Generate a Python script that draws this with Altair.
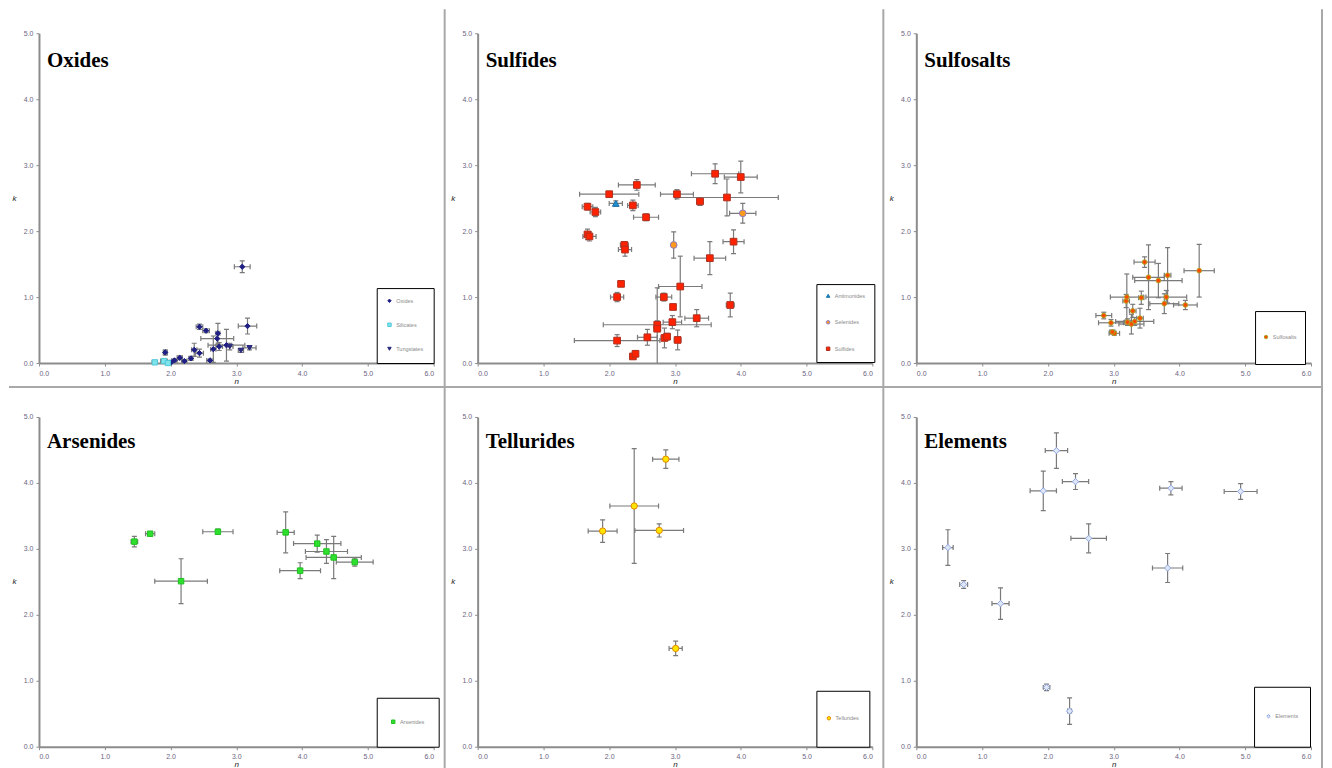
import altair as alt
import pandas as pd

# ---------------- data ----------------
# Oxides panel
OX_SERIES = ["Oxides"] * 18 + ["Tungstates"] * 3 + ["Silicates"] * 3
OX_N = [3.09, 3.17, 2.44, 2.54, 2.72, 2.71, 2.85, 2.74, 2.65, 2.36, 2.44, 1.92, 2.14, 2.06, 2.01, 2.21, 2.31, 2.60,
        3.07, 3.20, 2.90, 1.76, 1.90, 1.96]
OX_K = [1.46, 0.56, 0.55, 0.49, 0.45, 0.37, 0.27, 0.25, 0.21, 0.20, 0.15, 0.16, 0.08, 0.04, 0.01, 0.03, 0.07, 0.04,
        0.19, 0.23, 0.25, 0.01, 0.03, 0.00]
OX_DN = [0.12, 0.14, 0.05, 0.05, 0.03, 0.25, 0.28, 0.05, 0.04, 0.04, 0.06, 0.03, 0.04, 0.04, 0.03, 0.04, 0.03, 0.05,
         0.04, 0.10, 0.05, 0.04, 0.05, 0.03]
OX_DK = [0.09, 0.12, 0.04, 0.03, 0.15, 0.10, 0.24, 0.06, 0.20, 0.10, 0.06, 0.04, 0.03, 0.02, 0.01, 0.02, 0.03, 0.02,
         0.03, 0.03, 0.05, 0.01, 0.02, 0.01]

# Sulfides panel
SU_SERIES = ["Sulfides"] * 7 + ["Antimonides"] + ["Sulfides"] * 4 + ["Selenides"] + ["Sulfides"] * 4 + ["Selenides"] + ["Sulfides"] * 19
SU_N = [3.61, 4.00, 2.42, 2.00, 3.03, 3.38, 3.79, 2.10, 2.36, 1.67, 1.79, 2.56, 4.03, 1.67, 1.70, 2.23, 2.24, 2.98,
        3.89, 3.53, 3.08, 2.18, 2.12, 2.83, 3.84, 2.97, 3.33, 2.73, 2.73, 2.96, 2.12, 2.58, 2.84, 2.88, 3.04, 2.36, 2.40]
SU_K = [2.87, 2.82, 2.70, 2.56, 2.56, 2.45, 2.51, 2.42, 2.39, 2.37, 2.29, 2.21, 2.27, 1.95, 1.92, 1.79, 1.72, 1.79,
        1.84, 1.59, 1.16, 1.20, 1.00, 1.00, 0.88, 0.85, 0.68, 0.58, 0.52, 0.62, 0.34, 0.39, 0.38, 0.40, 0.35, 0.10, 0.14]
SU_DN = [0.36, 0.25, 0.28, 0.45, 0.25, 0.05, 0.78, 0.10, 0.08, 0.08, 0.08, 0.19, 0.20, 0.04, 0.10, 0.06, 0.10, 0.03,
         0.16, 0.24, 0.33, 0.03, 0.10, 0.12, 0.06, 0.03, 0.18, 0.82, 0.05, 0.14, 0.65, 0.15, 0.05, 0.04, 0.05, 0.03, 0.03]
SU_DK = [0.15, 0.24, 0.08, 0.04, 0.07, 0.06, 0.28, 0.04, 0.08, 0.05, 0.07, 0.05, 0.15, 0.08, 0.07, 0.05, 0.10, 0.20,
         0.18, 0.25, 0.46, 0.04, 0.07, 0.06, 0.18, 0.04, 0.13, 0.06, 0.62, 0.10, 0.09, 0.12, 0.15, 0.05, 0.15, 0.04, 0.04]

# Sulfosalts panel
SS_SERIES = ["Sulfosalts"] * 20
SS_N = [3.47, 3.53, 3.68, 3.82, 4.30, 3.20, 3.80, 3.77, 4.09, 3.19, 3.42, 3.29, 2.85, 3.40, 3.32, 3.21, 2.96, 3.27, 3.01, 2.98]
SS_K = [1.53, 1.30, 1.25, 1.33, 1.40, 1.00, 1.00, 0.90, 0.88, 0.94, 0.99, 0.79, 0.72, 0.68, 0.63, 0.62, 0.61, 0.59, 0.45, 0.47]
SS_DN = [0.16, 0.24, 0.36, 0.05, 0.23, 0.25, 0.31, 0.22, 0.18, 0.05, 0.04, 0.05, 0.12, 0.05, 0.29, 0.05, 0.19, 0.19, 0.08, 0.04]
SS_DK = [0.08, 0.49, 0.26, 0.42, 0.40, 0.35, 0.10, 0.15, 0.07, 0.10, 0.10, 0.10, 0.05, 0.15, 0.06, 0.05, 0.05, 0.15, 0.03, 0.03]

# Arsenides panel
AR_SERIES = ["Arsenides"] * 10
AR_N = [1.45, 1.69, 2.72, 2.16, 3.75, 4.23, 4.37, 4.48, 4.80, 3.97]
AR_K = [3.11, 3.23, 3.26, 2.51, 3.25, 3.08, 2.96, 2.87, 2.80, 2.67]
AR_DN = [0.05, 0.07, 0.23, 0.40, 0.13, 0.36, 0.32, 0.42, 0.28, 0.31]
AR_DK = [0.08, 0.03, 0.04, 0.34, 0.31, 0.13, 0.18, 0.32, 0.06, 0.12]

# Tellurides panel
TE_SERIES = ["Tellurides"] * 5
TE_N = [2.86, 2.38, 1.90, 2.76, 3.01]
TE_K = [4.36, 3.65, 3.27, 3.28, 1.49]
TE_DN = [0.20, 0.37, 0.22, 0.37, 0.10]
TE_DK = [0.14, 0.87, 0.17, 0.10, 0.11]

# Elements panel
EL_SERIES = ["Elements"] * 12
EL_N = [2.13, 1.93, 2.42, 3.87, 4.93, 2.62, 0.48, 0.72, 1.28, 3.82, 1.98, 2.33]
EL_K = [4.49, 3.88, 4.02, 3.92, 3.87, 3.16, 3.02, 2.46, 2.17, 2.71, 0.90, 0.54]
EL_DN = [0.17, 0.20, 0.20, 0.17, 0.25, 0.27, 0.08, 0.06, 0.13, 0.23, 0.05, 0.03]
EL_DK = [0.27, 0.30, 0.12, 0.10, 0.12, 0.22, 0.27, 0.06, 0.24, 0.22, 0.05, 0.20]

X_TICKS = [0, 1, 2, 3, 4, 5, 6]
Y_TICKS = [0, 1, 2, 3, 4, 5]

# ---------------- styling ----------------
W, H = 395, 330
ERR = "#7a7a7a"
DIV = "#a8a8a8"


def make_panel(title, row, col, series, n, k, dn, dk, domain, fills, strokes, shapes, size,
               lx, ly, pad, rowpad, lines):
    df = pd.DataFrame({"series": series, "n": n, "k": k, "dn": dn, "dk": dk})
    base = alt.Chart(df).transform_calculate(
        n_lo="datum.n - datum.dn", n_hi="datum.n + datum.dn",
        k_lo="datum.k - datum.dk", k_hi="datum.k + datum.dk")

    xs = alt.Scale(domain=[0, 6], nice=False, zero=False)
    ys = alt.Scale(domain=[0, 5], nice=False, zero=False)
    xax = alt.Axis(values=X_TICKS, format=".1f", title="n", titleY=18, titleBaseline="middle")
    yax = alt.Axis(values=Y_TICKS, format=".1f", title="k", titleAngle=0, titleX=-25, titleY=H / 2,
                   titleAlign="center", titleBaseline="middle")

    def X(f):
        return alt.X(f, type="quantitative", scale=xs, axis=xax)

    def Y(f):
        return alt.Y(f, type="quantitative", scale=ys, axis=yax)

    hbar = base.mark_rule(color=ERR, strokeWidth=1.2, clip=True).encode(x=X("n_lo"), x2="n_hi", y=Y("k"))
    vbar = base.mark_rule(color=ERR, strokeWidth=1.2, clip=True).encode(x=X("n"), y=Y("k_lo"), y2="k_hi")
    cap1 = base.mark_tick(orient="vertical", size=5, thickness=1.2, color=ERR, clip=True, opacity=1).encode(x=X("n_lo"), y=Y("k"))
    cap2 = base.mark_tick(orient="vertical", size=5, thickness=1.2, color=ERR, clip=True, opacity=1).encode(x=X("n_hi"), y=Y("k"))
    cap3 = base.mark_tick(orient="horizontal", size=5, thickness=1.2, color=ERR, clip=True, opacity=1).encode(x=X("n"), y=Y("k_lo"))
    cap4 = base.mark_tick(orient="horizontal", size=5, thickness=1.2, color=ERR, clip=True, opacity=1).encode(x=X("n"), y=Y("k_hi"))

    leg_kwargs = dict(orient="none", legendX=lx, legendY=ly, direction="vertical",
                      strokeColor="#000000", fillColor="#ffffff", padding=pad, rowPadding=rowpad,
                      labelFontSize=5.5, labelColor="#8a8a8a", labelFont="Liberation Sans",
                      symbolSize=12, symbolStrokeWidth=1, labelOffset=4)
    if lines > 1:
        # extra blank label lines below the entry, balanced by a blank title above it
        parts = ["datum.label"] + ["''"] * (lines - 1)
        leg_kwargs["labelExpr"] = "[" + ", ".join(parts) + "]"
        extra = 7.5 * (lines - 1)
        tfs = 5 if lines == 2 else 8
        leg_kwargs.update(title=" ", titleFontSize=tfs, titlePadding=extra - tfs)
    else:
        leg_kwargs["title"] = None
    leg = alt.Legend(**leg_kwargs)

    pts = base.mark_point(filled=True, size=size, strokeWidth=1, opacity=1).encode(
        x=X("n"), y=Y("k"),
        fill=alt.Fill("series:N", scale=alt.Scale(domain=domain, range=fills), legend=leg),
        stroke=alt.Stroke("series:N", scale=alt.Scale(domain=domain, range=strokes), legend=leg),
        shape=alt.Shape("series:N", scale=alt.Scale(domain=domain, range=shapes), legend=leg),
    )

    one = alt.Data(values=[{"d": 0}])
    if row == 0:
        vtop, vbot, hy = -24, 354, 354
    else:
        vtop, vbot, hy = -29, 352, None
    layers = [hbar, vbar, cap1, cap2, cap3, cap4, pts]
    layers.append(alt.Chart(one).mark_rule(color=DIV, strokeWidth=2).encode(
        x=alt.value(406), y=alt.value(vtop), y2=alt.value(vbot)))
    if hy is not None:
        x0 = -30 if col == 0 else -33
        layers.append(alt.Chart(one).mark_rule(color=DIV, strokeWidth=2).encode(
            x=alt.value(x0), x2=alt.value(407), y=alt.value(hy)))

    dy = 80 if row == 0 else 82
    return alt.layer(*layers).properties(
        width=W, height=H,
        title=alt.TitleParams(title, anchor="start", frame="group", orient="top", offset=0, dx=8, dy=dy,
                              font="Liberation Serif", fontSize=21, fontWeight="bold", color="#000000",
                              baseline="alphabetic"),
    ).resolve_scale(fill="shared", stroke="shared", shape="shared")


panels = [
    make_panel("Oxides", 0, 0, OX_SERIES, OX_N, OX_K, OX_DN, OX_DK,
               ["Oxides", "Silicates", "Tungstates"],
               ["#1f1f85", "#7fe3ea", "#2a2a80"], ["#1f1f85", "#4fc8d8", "#2a2a80"],
               ["diamond", "square", "triangle-down"], 28, 338, 255, 10, 16, 1),
    make_panel("Sulfides", 0, 1, SU_SERIES, SU_N, SU_K, SU_DN, SU_DK,
               ["Antimonides", "Selenides", "Sulfides"],
               ["#1e8fd0", "#ff9a1a", "#ff2200"], ["#1a6fa8", "#8a78c8", "#b03020"],
               ["triangle-up", "circle", "square"], 45, 339, 251, 9, 18.5, 1),
    make_panel("Sulfosalts", 0, 2, SS_SERIES, SS_N, SS_K, SS_DN, SS_DK,
               ["Sulfosalts"], ["#ff4a00"], ["#b0a020"], ["circle"], 22, 339, 278, 8.25, 0, 3),
    make_panel("Arsenides", 1, 0, AR_SERIES, AR_N, AR_K, AR_DN, AR_DK,
               ["Arsenides"], ["#2ee02e"], ["#22c022"], ["square"], 30, 338, 281, 13.75, 0, 2),
    make_panel("Tellurides", 1, 1, TE_SERIES, TE_N, TE_K, TE_DN, TE_DK,
               ["Tellurides"], ["#ffe400"], ["#e08a00"], ["circle"], 40, 339, 274, 9.75, 0, 3),
    make_panel("Elements", 1, 2, EL_SERIES, EL_N, EL_K, EL_DN, EL_DK,
               ["Elements"], ["#dfe6f7"], ["#8ea6e0"], ["diamond"], 40, 338, 270, 11.75, 0, 3),
]

chart = alt.concat(*panels, columns=3, spacing={"row": 54, "column": 44}, bounds="flush").resolve_scale(
    x="independent", y="independent", fill="independent", stroke="independent", shape="independent"
).resolve_legend(fill="independent", stroke="independent", shape="independent").properties(
    padding=0, background="white"
).configure_view(stroke=None).configure_axis(
    domainColor="#8c8c8c", domainWidth=2, tickColor="#8c8c8c", tickSize=3, tickWidth=1,
    labelFont="Liberation Sans", labelFontSize=7, labelColor="#6b6480", labelPadding=3, grid=False,
    titleFont="Liberation Sans", titleFontSize=8, titleFontStyle="italic", titleFontWeight="normal",
    titleColor="#222222"
)

chart.save("out.html", embed_options={"renderer": "svg", "actions": False})
